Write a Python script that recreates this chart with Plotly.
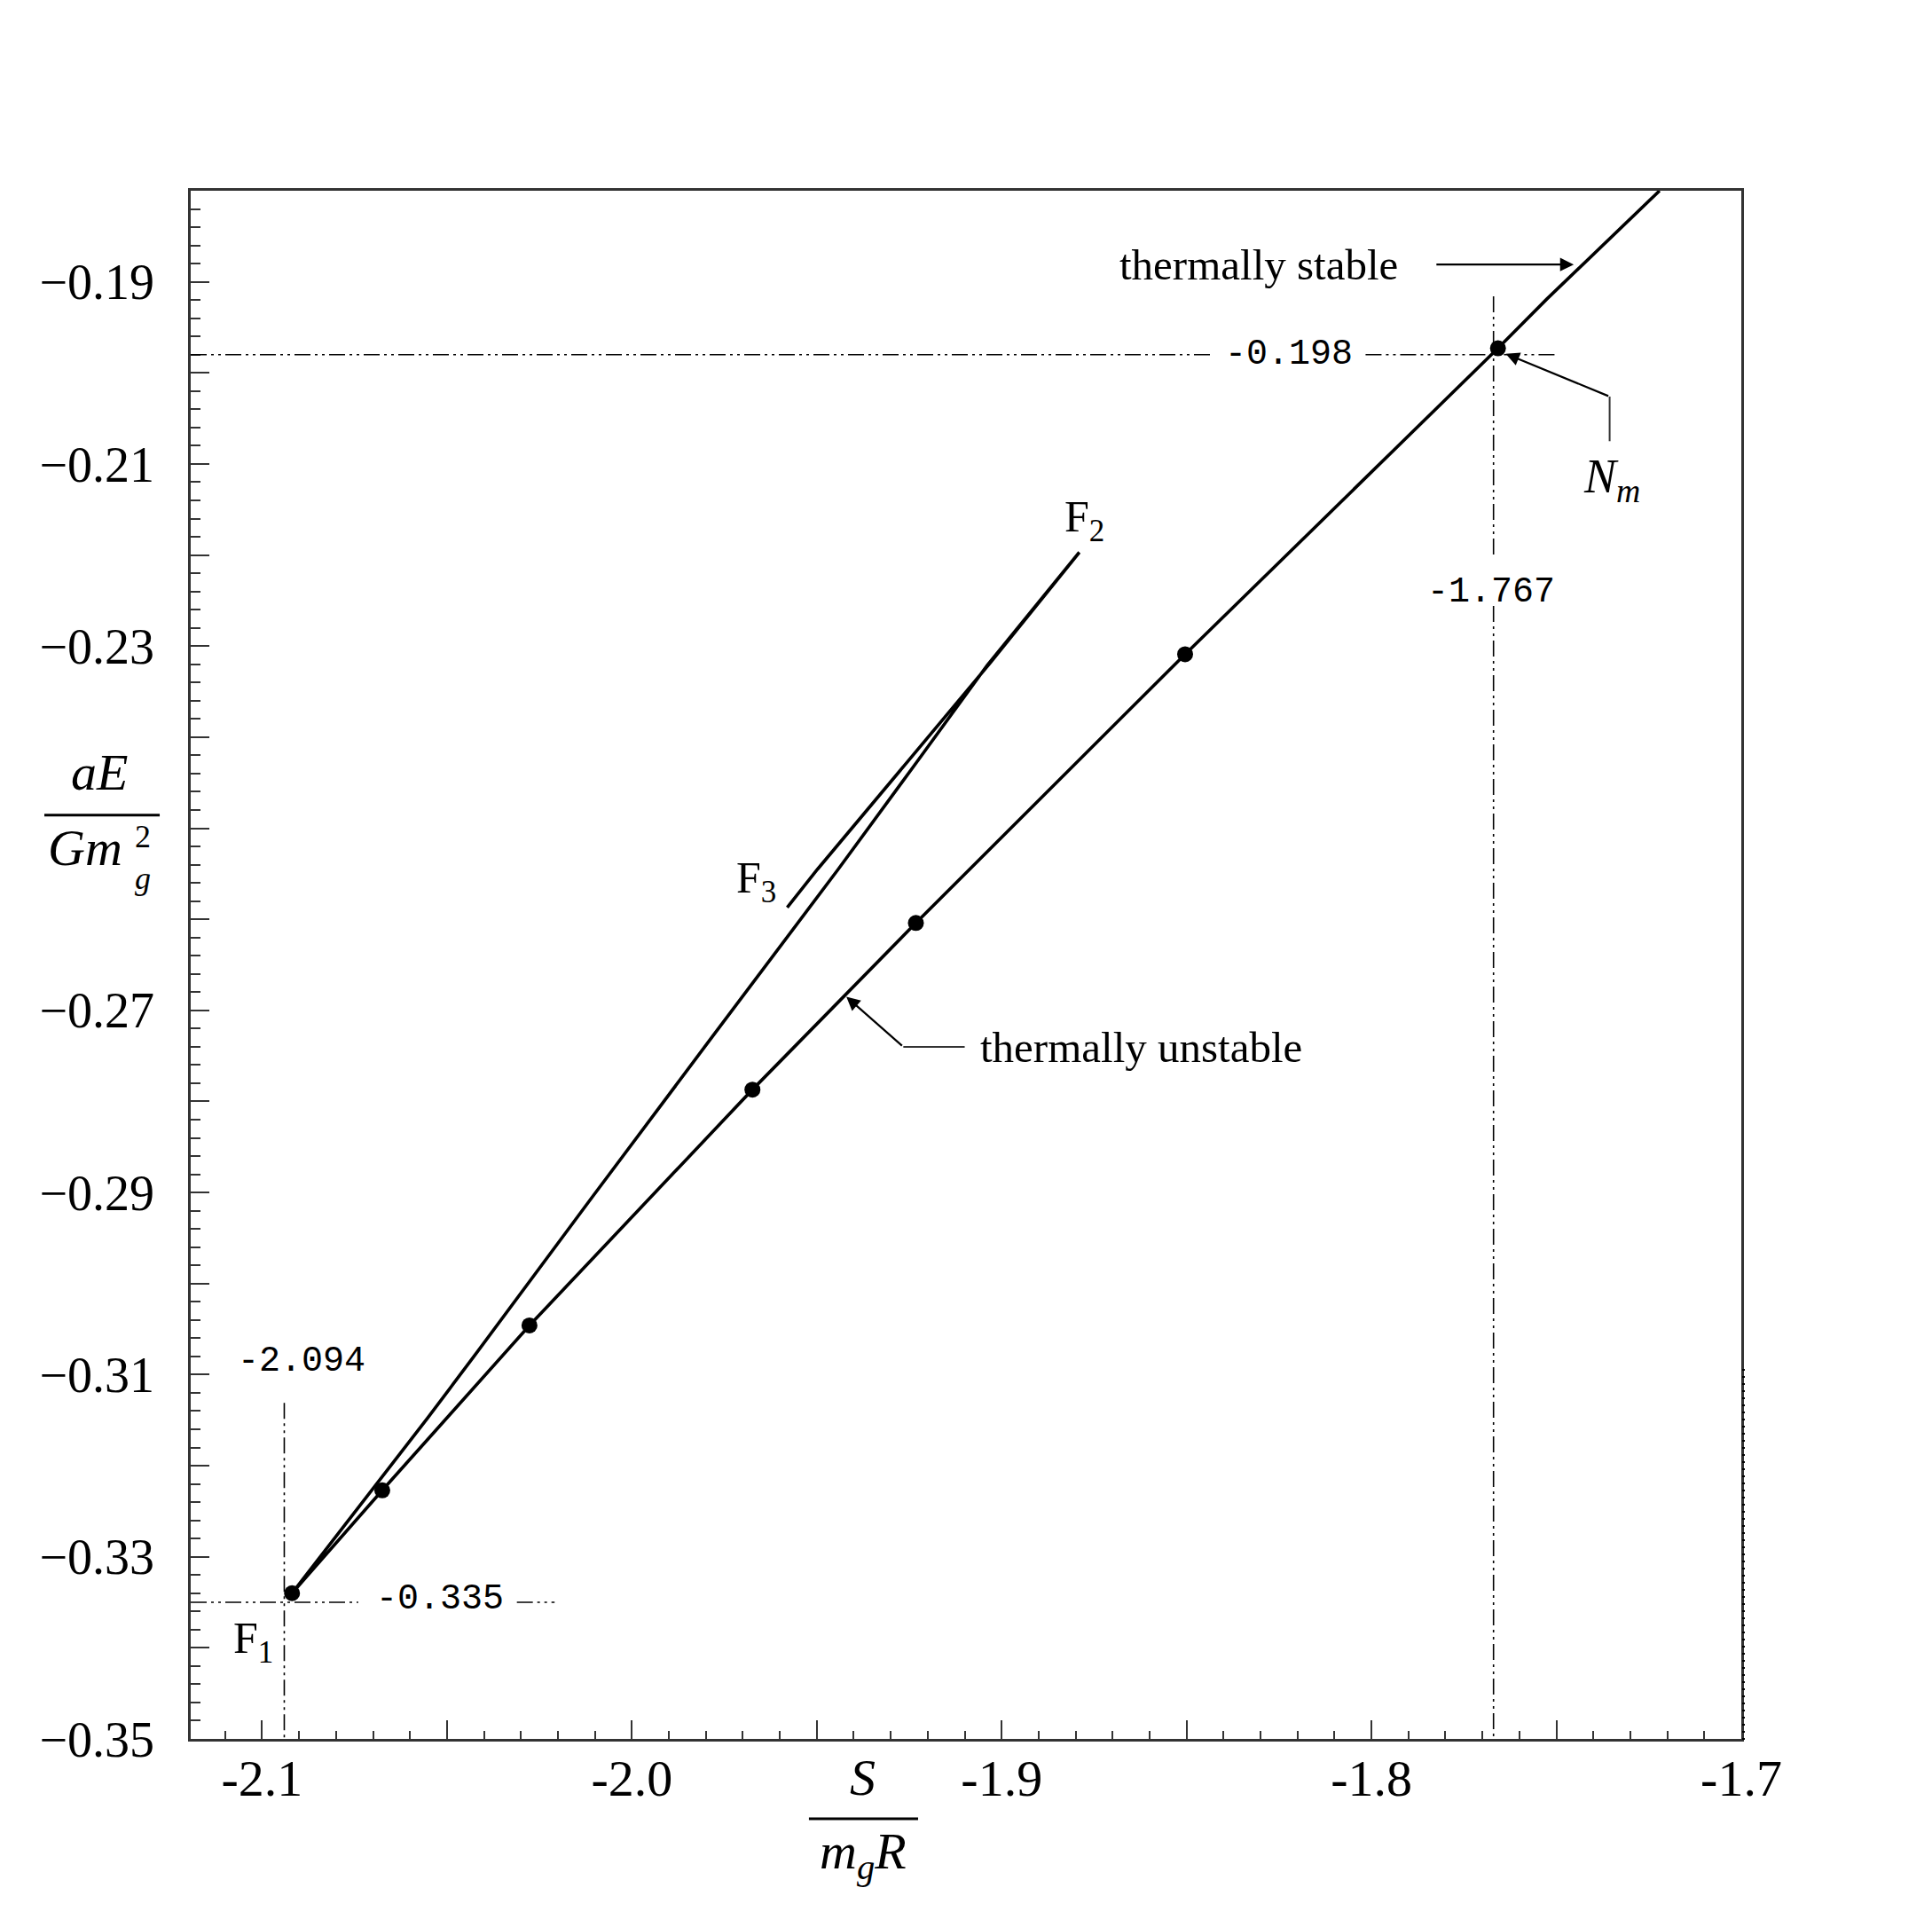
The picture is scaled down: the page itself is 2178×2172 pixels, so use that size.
import plotly.graph_objects as go

# ---------------- data ----------------
# one continuous equilibrium branch: stable top -> N_m -> F1 -> F2 -> F3
curve_x = [-1.7221, -1.7526, -1.7658, -1.8504, -1.9232, -1.9674, -2.0277, -2.0675, -2.0919,
           -2.0685, -2.0553, -2.0429, -2.0269, -2.0109, -1.9790, -1.9442, -1.9238, -1.9039, -1.8790,
           -1.9030, -1.9364, -1.9498, -1.9580]
curve_y = [-0.1800, -0.1919, -0.1973, -0.2309, -0.2604, -0.2787, -0.3046, -0.3227, -0.3340,
           -0.3218, -0.3148, -0.3081, -0.2993, -0.2906, -0.2733, -0.2545, -0.2432, -0.2321, -0.2197,
           -0.2318, -0.2480, -0.2545, -0.2587]
dot_x = [-2.0919, -2.0675, -2.0277, -1.9674, -1.9232, -1.8504, -1.7658]
dot_y = [-0.3340, -0.3227, -0.3046, -0.2787, -0.2604, -0.2309, -0.1973]

F1_S, F1_E = -2.094, -0.335
NM_S, NM_E = -1.767, -0.198

x_range = [-2.1193, -1.7]
y_range = [-0.35, -0.18]
x_major = [-2.1, -2.05, -2.0, -1.95, -1.9, -1.85, -1.8, -1.75, -1.7]
x_text = ["-2.1", "", "-2.0", "", "-1.9", "", "-1.8", "", "-1.7"]
y_major = [-0.35, -0.34, -0.33, -0.32, -0.31, -0.30, -0.29, -0.28, -0.27, -0.26,
           -0.25, -0.24, -0.23, -0.22, -0.21, -0.20, -0.19, -0.18]
y_text = ["\u22120.35", "", "\u22120.33", "", "\u22120.31", "", "\u22120.29", "", "\u22120.27", "",
          "", "", "\u22120.23", "", "\u22120.21", "", "\u22120.19", ""]
# tiny tick marks seen on the lower part of the right frame
right_tick_start, right_tick_end, right_tick_step = -0.35, -0.3094, 0.00078

SERIF = "Liberation Serif"
MONO = "Liberation Mono"
AX = "#333333"
DASH = "18px,5px,3px,5px,3px,5px"

fig = go.Figure()

fig.add_trace(go.Scatter(x=curve_x, y=curve_y, mode="lines",
                         line=dict(color="black", width=3.6), hoverinfo="skip", showlegend=False))
fig.add_trace(go.Scatter(x=dot_x, y=dot_y, mode="markers",
                         marker=dict(color="black", size=18, symbol="circle"),
                         hoverinfo="skip", showlegend=False))

# dash-dot guide lines
guides = [
    (F1_S, -0.3131, F1_S, y_range[0]),
    (x_range[0], F1_E, -2.0740, F1_E),
    (-2.0311, F1_E, -2.0209, F1_E),
    (x_range[0], NM_E, -1.8433, NM_E),
    (-1.8016, NM_E, -1.7497, NM_E),
    (NM_S, -0.1916, NM_S, -0.2204),
    (NM_S, -0.2256, NM_S, y_range[0]),
]
for x0, y0, x1, y1 in guides:
    fig.add_shape(type="line", xref="x", yref="y", x0=x0, y0=y0, x1=x1, y1=y1,
                  line=dict(color="black", width=1.6, dash=DASH))

# arrow pieces
fig.add_shape(type="line", xref="x", yref="y", x0=-1.9266, y0=-0.2740, x1=-1.9100, y1=-0.2740,
              line=dict(color=AX, width=2))
fig.add_shape(type="line", xref="x", yref="y", x0=-1.7356, y0=-0.2026, x1=-1.7356, y1=-0.2075,
              line=dict(color=AX, width=2))

arrows = [
    (-1.7453, -0.1881, -1.7828, -0.1881),
    (-1.9420, -0.2685, -1.9266, -0.2740),
    (-1.7637, -0.1979, -1.7356, -0.2026),
]
for x, y, ax, ay in arrows:
    fig.add_annotation(x=x, y=y, ax=ax, ay=ay, xref="x", yref="y", axref="x", ayref="y",
                       text="", showarrow=True, arrowhead=2, arrowsize=1.4, arrowwidth=2.2,
                       arrowcolor="black", standoff=0, startstandoff=0)

def txt(x, y, s, size, font=SERIF, xanchor="center", yanchor="middle", ref="data"):
    r = dict(xref="x", yref="y") if ref == "data" else dict(xref="paper", yref="paper")
    fig.add_annotation(x=x, y=y, text=s, showarrow=False, xanchor=xanchor, yanchor=yanchor,
                       font=dict(family=font, size=size, color="black"), **r)

txt(-1.8305, -0.1881, "thermally stable", 49)
txt(-1.9063, -0.2741, "thermally unstable", 49, xanchor="left")
txt(-1.7350, -0.2117, "<i>N</i><sub><i>m</i></sub>", 54)
txt(-2.1025, -0.3393, "F<sub>1</sub>", 50)
txt(-1.8777, -0.2161, "F<sub>2</sub>", 50)
txt(-1.9665, -0.2558, "F<sub>3</sub>", 50)
txt(-2.0892, -0.3085, "-2.094", 40, font=MONO)
txt(-2.0520, -0.3347, "-0.335", 40, font=MONO)
txt(-1.8224, -0.1980, "-0.198", 40, font=MONO)
txt(-1.7677, -0.2241, "-1.767", 40, font=MONO)

# axis titles as stacked fractions (paper coords)
txt(-0.0589, 0.6241, "<i>aE</i>", 58, ref="paper")
txt(-0.0680, 0.5759, "<i>Gm</i>", 58, ref="paper")
txt(-0.0310, 0.5700, "2", 36, yanchor="bottom", ref="paper")
txt(-0.0310, 0.5685, "<i>g</i>", 36, yanchor="top", ref="paper")
fig.add_shape(type="line", xref="paper", yref="paper", x0=-0.0944, x1=-0.0200, y0=0.5967, y1=0.5967,
              line=dict(color="black", width=3))

txt(0.4331, -0.0252, "<i>S</i>", 58, ref="paper")
txt(0.4336, -0.0745, "<i>m</i><sub><i>g</i></sub><i>R</i>", 58, ref="paper")
fig.add_shape(type="line", xref="paper", yref="paper", x0=0.3987, x1=0.4691, y0=-0.0516, y1=-0.0516,
              line=dict(color="black", width=3))

# invisible helper trace so the right-side overlay axis is drawn
fig.add_trace(go.Scatter(x=[x_range[1]], y=[y_range[0]], yaxis="y2", mode="markers",
                         marker=dict(size=1, opacity=0), hoverinfo="skip", showlegend=False))

n_right = int(round((right_tick_end - right_tick_start) / right_tick_step)) + 1
right_ticks = [right_tick_start + i * right_tick_step for i in range(n_right)]

fig.update_xaxes(range=x_range, tickmode="array", tickvals=x_major, ticktext=x_text,
                 ticks="inside", ticklen=21, tickwidth=2, tickcolor=AX,
                 minor=dict(tick0=-2.1, dtick=0.01, ticks="inside", ticklen=9, tickwidth=2, tickcolor=AX),
                 showline=True, linecolor=AX, linewidth=2.5, mirror=True,
                 showgrid=False, zeroline=False, ticklabelstandoff=-8,
                 tickfont=dict(family=SERIF, size=58, color="black"))
fig.update_yaxes(range=y_range, tickmode="array", tickvals=y_major, ticktext=y_text,
                 ticks="inside", ticklen=21, tickwidth=2, tickcolor=AX,
                 minor=dict(tick0=-0.35, dtick=0.002, ticks="inside", ticklen=11, tickwidth=2, tickcolor=AX),
                 showline=True, linecolor=AX, linewidth=2.5, mirror=True,
                 showgrid=False, zeroline=False, ticklabelstandoff=27,
                 tickfont=dict(family=SERIF, size=56, color="black"))

fig.update_layout(width=2178, height=2172, autosize=False,
                  margin=dict(l=215, r=215, t=215, b=212, pad=0),
                  paper_bgcolor="white", plot_bgcolor="white", showlegend=False,
                  yaxis2=dict(overlaying="y", side="right", range=y_range, tickmode="array",
                              tickvals=right_ticks, ticks="outside", ticklen=3, tickwidth=2,
                              tickcolor="black", showticklabels=False, showgrid=False,
                              zeroline=False, showline=False))

fig.write_html("out.html")
